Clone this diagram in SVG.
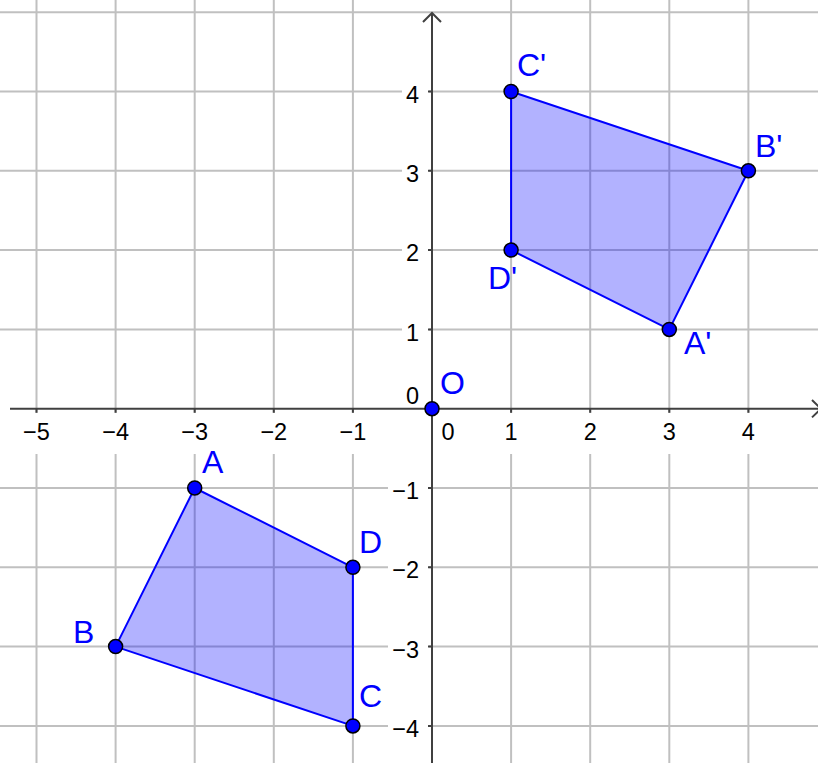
<svg xmlns="http://www.w3.org/2000/svg" width="818" height="763" viewBox="0 0 818 763">
<defs>
<style>
.grid line{stroke:#c0c0c0;stroke-width:2}
.bg rect{fill:#ffffff}
.axis{stroke:#404040;stroke-width:2;fill:none}
.tick{font-family:"Liberation Sans",Arial,sans-serif;font-size:23.5px;fill:#000}
.tx{text-anchor:middle}
.ty{text-anchor:end}
.poly{fill:#0000ff;fill-opacity:0.3;stroke:#0000ff;stroke-width:2;stroke-linejoin:round}
.pt{fill:#0000ff;stroke:#000;stroke-width:1.5}
.lbl{font-family:"Liberation Sans",Arial,sans-serif;font-size:32px;fill:#0000ff}
</style>
</defs>
<rect width="818" height="763" fill="#ffffff"/>
<g class="grid">
<line x1="36.5" y1="0" x2="36.5" y2="763"/>
<line x1="115.6" y1="0" x2="115.6" y2="763"/>
<line x1="194.7" y1="0" x2="194.7" y2="763"/>
<line x1="273.8" y1="0" x2="273.8" y2="763"/>
<line x1="352.9" y1="0" x2="352.9" y2="763"/>
<line x1="511.1" y1="0" x2="511.1" y2="763"/>
<line x1="590.2" y1="0" x2="590.2" y2="763"/>
<line x1="669.3" y1="0" x2="669.3" y2="763"/>
<line x1="748.4" y1="0" x2="748.4" y2="763"/>
<line x1="0" y1="12.2" x2="818" y2="12.2"/>
<line x1="0" y1="91.5" x2="818" y2="91.5"/>
<line x1="0" y1="170.8" x2="818" y2="170.8"/>
<line x1="0" y1="250.1" x2="818" y2="250.1"/>
<line x1="0" y1="329.4" x2="818" y2="329.4"/>
<line x1="0" y1="488" x2="818" y2="488"/>
<line x1="0" y1="567.3" x2="818" y2="567.3"/>
<line x1="0" y1="646.6" x2="818" y2="646.6"/>
<line x1="0" y1="725.9" x2="818" y2="725.9"/>
</g>
<g class="bg">
<rect x="21" y="413" width="31" height="41"/>
<rect x="100" y="413" width="31" height="41"/>
<rect x="179" y="413" width="31" height="41"/>
<rect x="258" y="413" width="31" height="41"/>
<rect x="337" y="413" width="31" height="41"/>
<rect x="439" y="413" width="18" height="41"/>
<rect x="502" y="413" width="18" height="41"/>
<rect x="581" y="413" width="18" height="41"/>
<rect x="660" y="413" width="18" height="41"/>
<rect x="739" y="413" width="18" height="41"/>
<rect x="402" y="78" width="27" height="28"/>
<rect x="402" y="157" width="27" height="28"/>
<rect x="402" y="236" width="27" height="28"/>
<rect x="402" y="315" width="27" height="28"/>
<rect x="402" y="382" width="27" height="24"/>
<rect x="388" y="474" width="41" height="28"/>
<rect x="388" y="553" width="41" height="28"/>
<rect x="388" y="632" width="41" height="28"/>
<rect x="388" y="712" width="41" height="28"/>
</g>
<g id="axes">
<line class="axis" x1="10" y1="408.7" x2="820" y2="408.7"/>
<line class="axis" x1="432" y1="13" x2="432" y2="763"/>
<polyline class="axis" points="423,22 432,13 441,22"/>
<polyline class="axis" points="812,400 821,408.7 812,417.4"/>
<path class="axis" d="M36.5 408.7v4M115.6 408.7v4M194.7 408.7v4M273.8 408.7v4M352.9 408.7v4M511.1 408.7v4M590.2 408.7v4M669.3 408.7v4M748.4 408.7v4M432 91.5h-4M432 170.8h-4M432 250.1h-4M432 329.4h-4M432 488h-4M432 567.3h-4M432 646.6h-4M432 725.9h-4"/>
</g>
<g id="ticklabels" class="tick">
<text class="tx" x="36.5" y="440">−5</text>
<text class="tx" x="115.6" y="440">−4</text>
<text class="tx" x="194.7" y="440">−3</text>
<text class="tx" x="273.8" y="440">−2</text>
<text class="tx" x="352.9" y="440">−1</text>
<text class="tx" x="448" y="440">0</text>
<text class="tx" x="511.1" y="440">1</text>
<text class="tx" x="590.2" y="440">2</text>
<text class="tx" x="669.3" y="440">3</text>
<text class="tx" x="748.4" y="440">4</text>
<text class="ty" x="419" y="103">4</text>
<text class="ty" x="419" y="182">3</text>
<text class="ty" x="419" y="261">2</text>
<text class="ty" x="419" y="341">1</text>
<text class="ty" x="419" y="404">0</text>
<text class="ty" x="419" y="499">−1</text>
<text class="ty" x="419" y="578">−2</text>
<text class="ty" x="419" y="658">−3</text>
<text class="ty" x="419" y="737">−4</text>
</g>
<g id="polygons">
<polygon id="ABCD" class="poly" points="194.7,488 115.6,646.6 352.9,725.9 352.9,567.3"/>
<polygon id="A1B1C1D1" class="poly" points="669.3,329.4 748.4,170.8 511.1,91.5 511.1,250.1"/>
</g>
<g id="O"><circle class="pt" cx="432" cy="408.7" r="7"/><text class="lbl" x="440" y="394">O</text></g>
<g id="A"><circle class="pt" cx="194.7" cy="488" r="7"/><text class="lbl" x="202" y="473">A</text></g>
<g id="B"><circle class="pt" cx="115.6" cy="646.6" r="7"/><text class="lbl" x="73" y="643">B</text></g>
<g id="C"><circle class="pt" cx="352.9" cy="725.9" r="7"/><text class="lbl" x="359" y="707">C</text></g>
<g id="D"><circle class="pt" cx="352.9" cy="567.3" r="7"/><text class="lbl" x="359" y="553">D</text></g>
<g id="A1"><circle class="pt" cx="669.3" cy="329.4" r="7"/><text class="lbl" x="684" y="354">A'</text></g>
<g id="B1"><circle class="pt" cx="748.4" cy="170.8" r="7"/><text class="lbl" x="755" y="157">B'</text></g>
<g id="C1"><circle class="pt" cx="511.1" cy="91.5" r="7"/><text class="lbl" x="517" y="76">C'</text></g>
<g id="D1"><circle class="pt" cx="511.1" cy="250.1" r="7"/><text class="lbl" x="488" y="289">D'</text></g>
</svg>
